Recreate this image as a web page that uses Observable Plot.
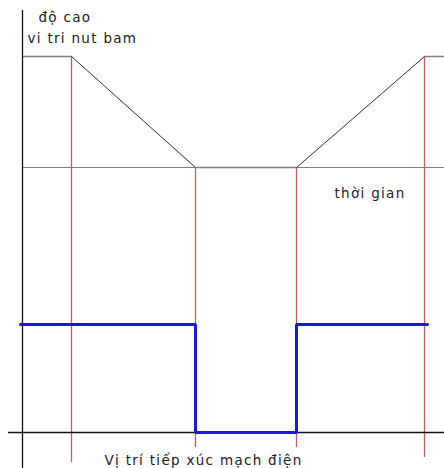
<!DOCTYPE html>
<html>
<head>
<meta charset="utf-8">
<script src="https://cdn.jsdelivr.net/npm/d3@7"></script>
<script src="https://cdn.jsdelivr.net/npm/@observablehq/plot@0.6"></script>
<style>
  html, body { margin: 0; padding: 0; background: #fff; }
  svg { display: block; }
</style>
</head>
<body>
<div id="chart"></div>
<script>
// Time instants (arbitrary units) of the key events
const tEnd = 422;
const events = [49, 173, 274, 402];            // red event markers
const eventTop = [376, 265, 265, 376];         // where each marker starts (upper trace)
const eventBottom = [-30, -15, -15, -25];      // where each marker ends

// Upper trace: button position height
const buttonT = [0, 49, 173, 274, 402, 422];
const buttonH = [376, 376, 265, 265, 376, 376];
const buttonBase = 265;

// Lower trace: contact state
const contactT = [-2, 173, 173, 274, 274, 405];
const contactV = [108, 108, 0, 0, 108, 108];

// Labels
const labels = [
  {t: 16, y: 411, text: "độ cao"},
  {t: 5, y: 390, text: "vi tri nut bam"},
  {t: 312, y: 235, text: "thời gian"},
  {t: 82, y: -32, text: "Vị trí tiếp xúc mạch điện"}
];

const button = buttonT.map((t, i) => ({t, h: buttonH[i]}));
const buttonSegs = button.slice(1).map((d, i) => ({
  t1: button[i].t, h1: button[i].h, t2: d.t, h2: d.h,
  flat: button[i].h === d.h
}));
const contact = contactT.map((t, i) => ({t, v: contactV[i]}));
const marks = events.map((t, i) => ({t, top: eventTop[i], bottom: eventBottom[i]}));

const plot = Plot.plot({
  width: 444,
  height: 468,
  margin: 0,
  style: {fontFamily: "'DejaVu Sans', Verdana, sans-serif", fontSize: "13.5px", letterSpacing: "1.3px", background: "#fff"},
  x: {domain: [0, tEnd], range: [22, 444], axis: null},
  y: {domain: [0, 432], range: [432, 0], axis: null},
  marks: [
    // baseline of upper trace
    Plot.ruleY([buttonBase], {x1: 0, x2: tEnd, stroke: "#808080", strokeWidth: 1}),
    // red event markers
    Plot.ruleX(marks, {x: "t", y1: "top", y2: "bottom", stroke: "#c85a5a", strokeWidth: 1.3}),
    // upper trace segments
    Plot.link(buttonSegs, {
      x1: "t1", y1: "h1", x2: "t2", y2: "h2",
      stroke: d => d.flat ? "#808080" : "#333333",
      strokeWidth: d => d.flat ? 1.5 : 1
    }),
    // axes
    Plot.ruleX([0], {y1: 422, y2: -36, stroke: "#111", strokeWidth: 1.3}),
    Plot.ruleY([0], {x1: -14, x2: tEnd, stroke: "#111", strokeWidth: 1.3}),
    // contact trace
    Plot.line(contact, {x: "t", y: "v", stroke: "#1a1ad0", strokeWidth: 3, strokeLinejoin: "miter"}),
    // labels
    Plot.text(labels, {x: "t", y: "y", text: "text", textAnchor: "start", lineAnchor: "bottom", fill: "#222", fontSize: 13.5})
  ]
});
document.getElementById("chart").appendChild(plot);
</script>
</body>
</html>
